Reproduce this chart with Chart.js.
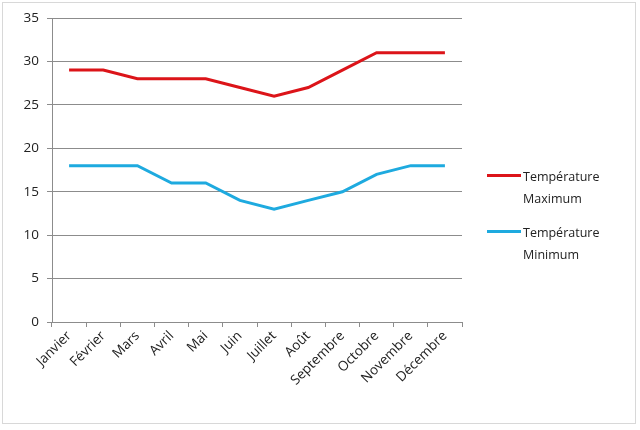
<!DOCTYPE html>
<html><head><meta charset="utf-8">
<script src="https://cdn.jsdelivr.net/npm/chart.js@4/dist/chart.umd.min.js"></script>
<style>
html,body{margin:0;padding:0;background:#fff;}
#wrap{position:relative;width:640px;height:430px;overflow:hidden;}
#frame{position:absolute;left:2px;top:2px;width:634px;height:422px;border:1px solid #d8d8d8;box-sizing:border-box;pointer-events:none;}
#legend{position:absolute;left:487px;top:166px;font-family:"Open Sans","Noto Sans",sans-serif;font-size:12.5px;color:#222;}
.item{position:relative;height:56px;}
.sw{position:absolute;left:0;top:8px;width:34px;height:3px;}
.tx{position:absolute;left:36px;top:0;line-height:22px;white-space:nowrap;}
</style></head>
<body>
<div id="wrap">
<canvas id="c" width="640" height="430"></canvas>
<div id="frame"></div>
<div id="legend"></div>
</div>
<script>
const categories = ["Janvier","Février","Mars","Avril","Mai","Juin","Juillet","Août","Septembre","Octobre","Novembre","Décembre"];
const tempMax = [29,29,28,28,28,27,26,27,29,31,31,31];
const tempMin = [18,18,18,16,16,14,13,14,15,17,18,18];
const seriesNames = [["Température","Maximum"],["Température","Minimum"]];
const colors = ["#dc1419","#1eaadf"];

const fam = '"Open Sans","Noto Sans",sans-serif';
const chart = new Chart(document.getElementById('c'), {
  type:'line',
  data:{labels:categories, datasets:[
    {label:seriesNames[0].join(' '), data:tempMax, borderColor:colors[0], borderWidth:3, pointRadius:0, tension:0, fill:false},
    {label:seriesNames[1].join(' '), data:tempMin, borderColor:colors[1], borderWidth:3, pointRadius:0, tension:0, fill:false}
  ]},
  options:{
    responsive:false, animation:false, devicePixelRatio:1,
    layout:{padding:{left:0,top:18,right:178,bottom:0}},
    plugins:{legend:{display:false}, tooltip:{enabled:false}},
    scales:{
      x:{offset:true,
        grid:{offset:true, drawOnChartArea:false, drawTicks:true, tickLength:5, color:'#8c8c8c'},
        border:{color:'#8c8c8c', width:1},
        ticks:{minRotation:45, maxRotation:45, color:'#222', font:{family:fam,size:13.5}, padding:1, autoSkip:false},
        afterFit(s){ s.height = 108; }
      },
      y:{min:0,max:35,
        ticks:{stepSize:5, color:'#222', font:{family:fam,size:13.5}, padding:8},
        grid:{color:'#8c8c8c', tickLength:5},
        border:{color:'#8c8c8c', width:1},
        afterFit(s){ s.width = 52; }
      }
    }
  }
});

const leg = document.getElementById('legend');
seriesNames.forEach((n,i)=>{
  const d = document.createElement('div'); d.className='item';
  d.innerHTML = '<div class="sw" style="background:'+colors[i]+'"></div><div class="tx">'+n[0]+'<br>'+n[1]+'</div>';
  leg.appendChild(d);
});
</script>
</body></html>
